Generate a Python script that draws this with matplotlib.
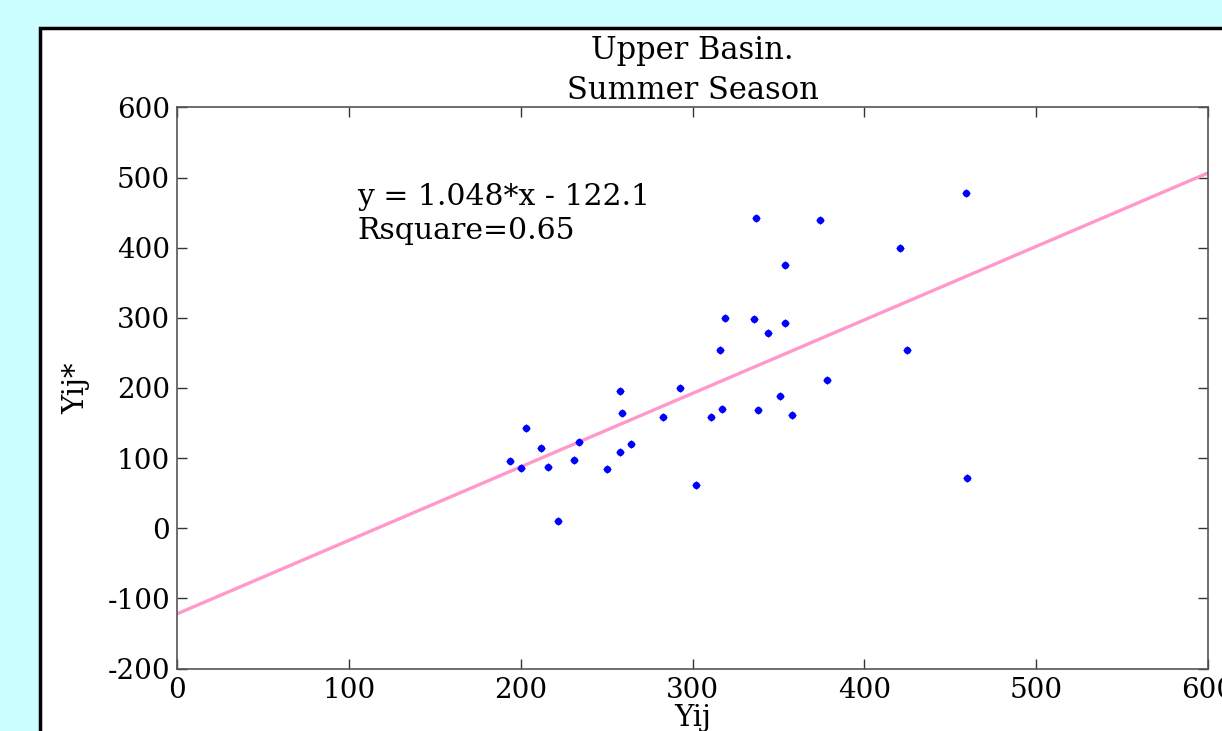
import matplotlib
matplotlib.use("Agg")
import matplotlib.pyplot as plt
from matplotlib.patches import Rectangle
import numpy as np

plt.rcParams["axes.unicode_minus"] = False

# Data
yij = [319, 316, 258, 293, 259, 283, 311, 317, 203, 212, 234, 264, 258, 194, 200,
       216, 231, 250, 302, 222, 459, 337, 374, 421, 354, 336, 354, 344, 425, 378,
       351, 338, 358, 460]
yij_star = [300, 254, 196, 200, 165, 158, 159, 170, 143, 114, 123, 120, 109, 96, 86,
            87, 97, 85, 61, 10, 478, 443, 439, 399, 375, 298, 293, 278, 254, 212,
            188, 169, 161, 72]
slope = 1.048
intercept = -122.1
fit_x = [0, 600]
x_ticks = [0, 100, 200, 300, 400, 500, 600]
y_ticks = [-200, -100, 0, 100, 200, 300, 400, 500, 600]
title_lines = ["Upper Basin.", "Summer Season"]
eq_text = "y = 1.048*x - 122.1\nRsquare=0.65"

W, H = 1222, 731
fig = plt.figure(figsize=(W / 100, H / 100), dpi=100)
fig.patch.set_facecolor("#CCFFFF")

# white panel with black border
fig.patches.append(Rectangle((40 / W, -0.05), 1.1, 1 - 28 / H + 0.05,
                             transform=fig.transFigure, facecolor="white",
                             edgecolor="black", linewidth=2.5, zorder=-5))

serif = ["DejaVu Serif"]
ax = fig.add_axes([177 / W, 1 - 668.5 / H, (1208 - 177) / W, (668.5 - 107.5) / H])
ax.set_zorder(2)
ax.set_facecolor("white")

fx = np.array(fit_x, dtype=float)
ax.plot(fx, slope * fx + intercept, color="#FF99CC", linewidth=2.4, zorder=2)
ax.plot(yij, yij_star, linestyle="none", marker="o", markersize=4.2,
        color="#0000FF", zorder=3)
ax.plot(yij, yij_star, linestyle="none", marker="+", markersize=5.5,
        markeredgewidth=0.9, color="#0000FF", zorder=3)

ax.set_xlim(0, 600)
ax.set_ylim(-200, 600)
ax.set_xticks(x_ticks)
ax.set_yticks(y_ticks)
ax.tick_params(direction="in", top=True, right=True, length=7, width=1,
               colors="#333333", labelcolor="black", labelsize=20)
ax.tick_params(axis="y", pad=5)
ax.tick_params(axis="x", pad=6)
for lab in ax.get_xticklabels() + ax.get_yticklabels():
    lab.set_family(serif)
for sp in ax.spines.values():
    sp.set_color("#555555")
    sp.set_linewidth(1.2)

ax.set_title("\n".join(title_lines), fontsize=22, family=serif,
             linespacing=1.38, pad=6)
ax.set_xlabel("Yij", fontsize=21, family=serif, labelpad=0)
ax.set_ylabel("Yij*", fontsize=21, family=serif, labelpad=12)
ax.text(105, 492, eq_text, fontsize=21.5, family=serif, va="top", ha="left",
        linespacing=1.25)

fig.savefig("out.png", dpi=100, facecolor=fig.get_facecolor())
